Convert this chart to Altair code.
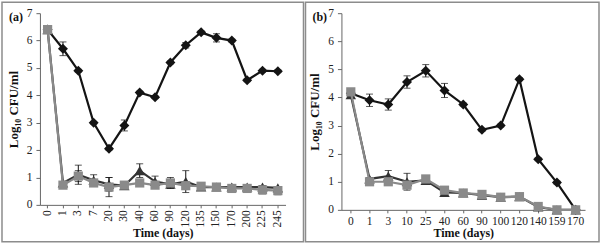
import altair as alt
import pandas as pd

# ---------------- data ----------------
days_a = ["0", "1", "3", "7", "20", "30", "40", "60", "90", "120", "135", "150", "170", "200", "225", "245"]
diamond_a = [6.4, 5.7, 4.9, 3.0, 2.05, 2.9, 4.1, 3.93, 5.2, 5.83, 6.3, 6.1, 6.0, 4.55, 4.9, 4.88]
diamond_a_err = [0.05, 0.25, 0.05, 0.05, 0.05, 0.2, 0.05, 0.05, 0.05, 0.1, 0.05, 0.15, 0.05, 0.05, 0.05, 0.05]
triangle_a = [6.4, 0.8, 1.1, 0.9, 0.75, 0.7, 1.25, 0.85, 0.75, 0.85, 0.65, 0.65, 0.65, 0.65, 0.65, 0.62]
triangle_a_err = [0.0, 0.05, 0.35, 0.2, 0.25, 0.05, 0.25, 0.2, 0.1, 0.4, 0.05, 0.05, 0.05, 0.05, 0.05, 0.05]
square_a = [6.4, 0.72, 1.05, 0.8, 0.65, 0.72, 0.8, 0.72, 0.8, 0.7, 0.68, 0.65, 0.6, 0.6, 0.55, 0.52]
square_a_err = [0.0, 0.05, 0.2, 0.1, 0.35, 0.05, 0.1, 0.1, 0.2, 0.1, 0.05, 0.05, 0.05, 0.05, 0.15, 0.15]

days_b = ["0", "1", "3", "10", "25", "40", "60", "90", "100", "120", "140", "159", "170"]
diamond_b = [4.15, 3.9, 3.75, 4.55, 4.95, 4.25, 3.75, 2.85, 3.0, 4.65, 1.8, 0.97, 0.0]
diamond_b_err = [0.05, 0.22, 0.2, 0.22, 0.22, 0.25, 0.05, 0.05, 0.05, 0.05, 0.05, 0.05, 0.0]
triangle_b = [4.1, 1.1, 1.2, 1.0, 1.05, 0.62, 0.6, 0.52, 0.45, 0.47, 0.1, 0.0, 0.0]
triangle_b_err = [0.05, 0.05, 0.2, 0.3, 0.1, 0.05, 0.05, 0.05, 0.05, 0.05, 0.05, 0.0, 0.0]
square_b = [4.2, 1.0, 1.0, 0.88, 1.1, 0.7, 0.6, 0.55, 0.45, 0.47, 0.12, 0.0, 0.0]
square_b_err = [0.05, 0.05, 0.05, 0.1, 0.05, 0.05, 0.05, 0.05, 0.05, 0.05, 0.05, 0.0, 0.0]

y_title = "Log\u2081\u2080  CFU/ml"
x_title = "Time (days)"
FONT = "Liberation Serif"

series_style = [
    ("diamond", "#141414", "diamond", 100),
    ("triangle", "#333333", "triangle-up", 110),
    ("square", "#8a8a8a", "square", 85),
]


def make_df(days, vals, errs):
    rows = []
    for name, v, e in zip(["diamond", "triangle", "square"], vals, errs):
        for d, val, err in zip(days, v, e):
            rows.append({"day": d, "series": name, "value": val,
                         "lo": max(val - err, 0), "hi": val + err})
    return pd.DataFrame(rows)


def panel(days, vals, errs, label, w, h, angle, box, xtpad, xlpad):
    df = make_df(days, vals, errs)
    xaxis = alt.Axis(title=x_title, labelAngle=angle, labelOverlap=False, titlePadding=xtpad,
                     labelPadding=xlpad)
    yaxis = alt.Axis(title=y_title, values=list(range(8)), labelOverlap=False, titlePadding=6)
    yscale = alt.Scale(domain=[0, 7], nice=False)
    xenc = alt.X("day:O", sort=days, scale=alt.Scale(padding=0), axis=xaxis)

    def Y(field):
        return alt.Y(field + ":Q", scale=yscale, axis=yaxis)

    layers = []
    for name, col, shape, size in series_style:
        sub = df[df.series == name]
        base = alt.Chart(sub)
        err = base.mark_rule(color="#111", strokeWidth=1).encode(x=xenc, y=Y("lo"), y2="hi:Q")
        cap_hi = base.mark_tick(color="#111", thickness=1, size=7, orient="horizontal").encode(x=xenc, y=Y("hi"))
        cap_lo = base.mark_tick(color="#111", thickness=1, size=7, orient="horizontal").encode(x=xenc, y=Y("lo"))
        line = base.mark_line(color=col, strokeWidth=2.2).encode(x=xenc, y=Y("value"))
        pts = base.mark_point(shape=shape, filled=True, color=col, size=size, opacity=1).encode(x=xenc, y=Y("value"))
        layers += [line, err, cap_hi, cap_lo, pts]
    bx0, bx1, by0, by1 = box
    border = alt.Chart(pd.DataFrame({"k": [0]})).mark_rect(
        filled=False, stroke="#8c8c8c", strokeWidth=1.5).encode(
        x=alt.value(bx0), x2=alt.value(bx1), y=alt.value(by0), y2=alt.value(by1))
    lab = alt.Chart(pd.DataFrame({"t": [label]})).mark_text(
        font=FONT, fontSize=12, fontWeight="bold", align="left", baseline="middle", color="#111").encode(
        text="t:N", x=alt.value(bx0 + 7), y=alt.value(4))
    return alt.layer(*layers, border, lab).properties(width=w, height=h)


pa = panel(days_a, [diamond_a, triangle_a, square_a], [diamond_a_err, triangle_a_err, square_a_err],
           "(a)", 246, 192, 270, (-38, 264, -11, 229), 0, 2)
pb = panel(days_b, [diamond_b, triangle_b, square_b], [diamond_b_err, triangle_b_err, square_b_err],
           "(b)", 244, 197, 0, (-36, 258, -11, 229), 0, 3)

chart = alt.hconcat(pa, pb, spacing=0).properties(
    padding={"left": 1, "top": 1, "right": 0, "bottom": 0}
).configure(
    background="white", font=FONT
).configure_view(stroke=None).configure_axis(
    labelFont=FONT, labelFontSize=11.5, labelColor="#222",
    titleFont=FONT, titleFontWeight="bold", titleColor="#111",
    domainColor="#666", tickColor="#666", grid=False
).configure_axisX(
    titleFontSize=12, tickSize=3
).configure_axisY(
    titleFontSize=13, tickSize=4, labelPadding=4
)

chart.save("out.html", embed_options={"renderer": "svg", "actions": False})
